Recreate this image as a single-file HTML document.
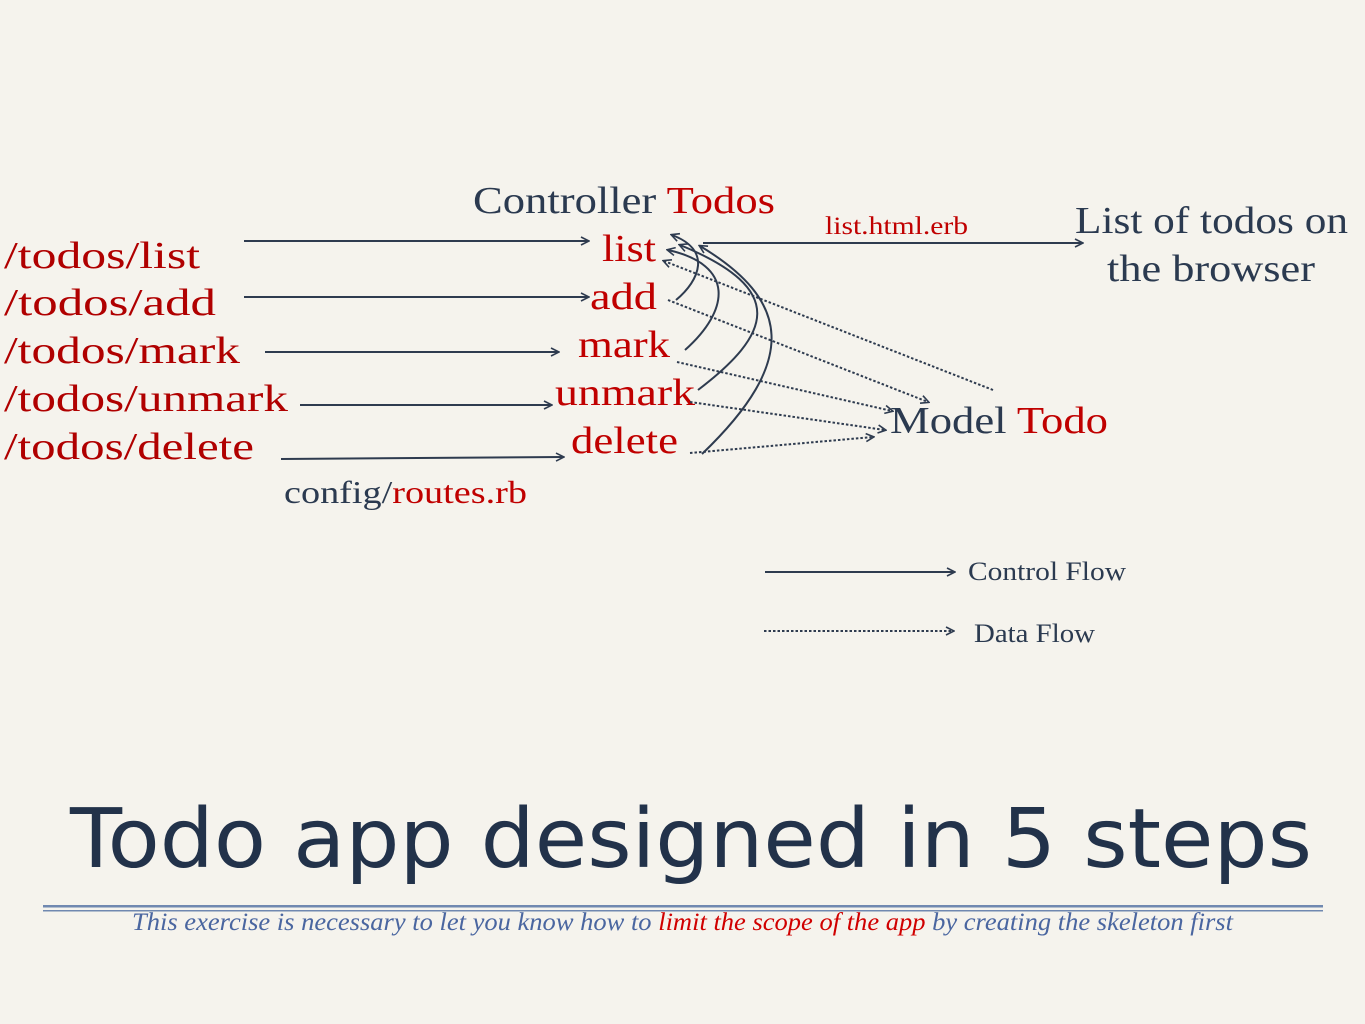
<!DOCTYPE html>
<html><head><meta charset="utf-8"><style>
html,body{margin:0;padding:0;background:#f5f3ed;}
svg{display:block}
</style></head><body>
<svg width="1365" height="1024" viewBox="0 0 1365 1024" xmlns="http://www.w3.org/2000/svg">
<defs>
<marker id="a" markerWidth="10" markerHeight="10" refX="8" refY="5" orient="auto" markerUnits="userSpaceOnUse">
<path d="M1,1 L9,5 L1,9" fill="none" stroke="#2e3b4f" stroke-width="1.6"/></marker>
</defs>
<rect width="1365" height="1024" fill="#f5f3ed"/>
<g font-family="Liberation Serif, serif" fill="#b00000" font-size="38" lengthAdjust="spacingAndGlyphs">
<text x="4" y="268" textLength="196" lengthAdjust="spacingAndGlyphs">/todos/list</text>
<text x="4" y="315" textLength="212" lengthAdjust="spacingAndGlyphs">/todos/add</text>
<text x="4" y="363" textLength="236" lengthAdjust="spacingAndGlyphs">/todos/mark</text>
<text x="4" y="411" textLength="284" lengthAdjust="spacingAndGlyphs">/todos/unmark</text>
<text x="4" y="459" textLength="250" lengthAdjust="spacingAndGlyphs">/todos/delete</text>
</g>
<g font-family="Liberation Serif, serif" font-size="38">
<text x="473" y="213" fill="#2b3a50" textLength="302" lengthAdjust="spacingAndGlyphs">Controller <tspan fill="#c00000">Todos</tspan></text>
<text x="602" y="261" fill="#c00000" textLength="54" lengthAdjust="spacingAndGlyphs">list</text>
<text x="590" y="309" fill="#c00000" textLength="67" lengthAdjust="spacingAndGlyphs">add</text>
<text x="578" y="357" fill="#c00000" textLength="92" lengthAdjust="spacingAndGlyphs">mark</text>
<text x="555" y="405" fill="#c00000" textLength="140" lengthAdjust="spacingAndGlyphs">unmark</text>
<text x="571" y="453" fill="#c00000" textLength="107" lengthAdjust="spacingAndGlyphs">delete</text>
<text x="1075" y="233" fill="#2b3a50" textLength="273" lengthAdjust="spacingAndGlyphs">List of todos on</text>
<text x="1107" y="281" fill="#2b3a50" textLength="208" lengthAdjust="spacingAndGlyphs">the browser</text>
<text x="890" y="433" fill="#2b3a50" textLength="218" lengthAdjust="spacingAndGlyphs">Model <tspan fill="#c00000">Todo</tspan></text>
</g>
<text x="825" y="234" font-family="Liberation Serif, serif" font-size="25" fill="#c00000" textLength="143" lengthAdjust="spacingAndGlyphs">list.html.erb</text>
<text x="284" y="503" font-family="Liberation Serif, serif" font-size="32" fill="#2b3a50" textLength="243" lengthAdjust="spacingAndGlyphs">config/<tspan fill="#c00000">routes.rb</tspan></text>
<text x="968" y="580" font-family="Liberation Serif, serif" font-size="26" fill="#2b3a50" textLength="158" lengthAdjust="spacingAndGlyphs">Control Flow</text>
<text x="974" y="642" font-family="Liberation Serif, serif" font-size="26" fill="#2b3a50" textLength="121" lengthAdjust="spacingAndGlyphs">Data Flow</text>
<g stroke="#2e3b4f" stroke-width="2" fill="none" marker-end="url(#a)">
<line x1="244" y1="241" x2="588" y2="241"/>
<line x1="244" y1="297" x2="588" y2="297"/>
<line x1="265" y1="352" x2="558" y2="352"/>
<line x1="300" y1="405" x2="551" y2="405"/>
<line x1="281" y1="459" x2="563" y2="457"/>
<line x1="703" y1="243" x2="1082" y2="243"/>
<line x1="765" y1="572" x2="954" y2="572"/>
<path d="M676,300 C700,280 712,250 672,235"/>
<path d="M685,350 C730,310 735,265 668,250"/>
<path d="M698,390 C770,335 790,290 680,245"/>
<path d="M702,454 C800,360 790,300 700,246"/>
</g>
<g stroke="#2e3b4f" stroke-width="2" fill="none" stroke-dasharray="2.5 2" marker-end="url(#a)">
<line x1="993" y1="390" x2="664" y2="261"/>
<line x1="668" y1="300" x2="928" y2="402"/>
<line x1="677" y1="362" x2="892" y2="411"/>
<line x1="690" y1="402" x2="885" y2="430"/>
<line x1="690" y1="453" x2="873" y2="437"/>
<line x1="764" y1="631" x2="953" y2="631"/>
</g>
<text x="70" y="867" font-family="DejaVu Sans, sans-serif" font-size="82" fill="#22324a" textLength="1242" lengthAdjust="spacingAndGlyphs">Todo app designed in 5 steps</text>
<rect x="43" y="905" width="1280" height="2.5" fill="#7088b0"/>
<rect x="43" y="910" width="1280" height="1.5" fill="#7088b0"/>
<text x="132" y="930" font-family="Liberation Serif, serif" font-style="italic" font-size="25" fill="#4a66a0" textLength="1101" lengthAdjust="spacingAndGlyphs">This exercise is necessary to let you know how to <tspan fill="#d00000">limit the scope of the app</tspan> by creating the skeleton first</text>
</svg>
</body></html>
